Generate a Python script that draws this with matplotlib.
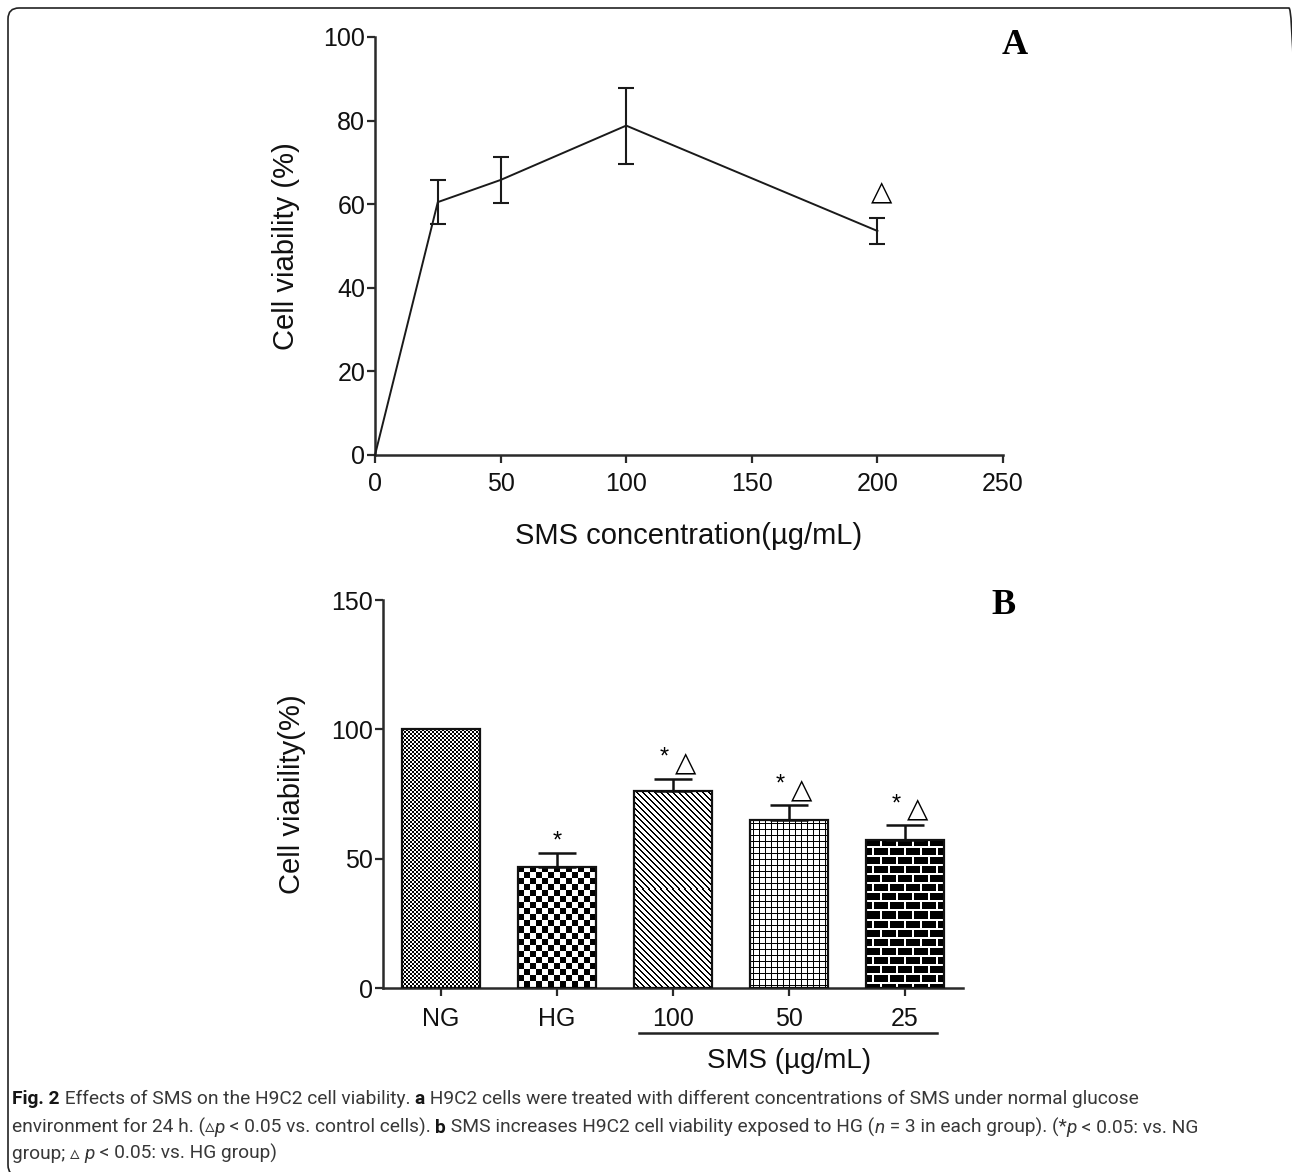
import numpy as np
import matplotlib
matplotlib.use("Agg")
import matplotlib.pyplot as plt
import matplotlib.transforms as mtransforms
from matplotlib.patches import FancyBboxPatch

plt.rcParams['font.family'] = ['Liberation Sans', 'DejaVu Sans']

# panel A: viability vs SMS concentration (normal glucose)
conc = [0, 25, 50, 100, 200]
viab_a = [0, 60.5, 65.8, 78.8, 53.6]
err_a = [0, 5.3, 5.6, 9.1, 3.2]

# panel B: viability under high glucose
groups = ["NG", "HG", "100", "50", "25"]
viab_b = [100, 46.8, 76.3, 64.9, 57.4]
err_b = [0, 5.2, 4.6, 5.7, 5.5]
stars_b = [False, True, True, True, True]
tris_b = [False, False, True, True, True]
fills_b = ["fine", "check", "diag", "grid", "brick"]

W, H = 1292, 1172
fig = plt.figure(figsize=(W / 100, H / 100), dpi=100)
INK = '#2a2a2a'


def px_axes(l, t, r, b):
    return fig.add_axes([l / W, 1 - b / H, (r - l) / W, (b - t) / H])


def style(ax):
    for s in ('top', 'right'):
        ax.spines[s].set_visible(False)
    for s in ('left', 'bottom'):
        ax.spines[s].set_linewidth(1.8)
        ax.spines[s].set_color(INK)
    ax.tick_params(direction='out', length=6, width=1.6, color=INK,
                   labelsize=18, labelcolor='#111')
    ax.tick_params(axis='y', pad=1)
    ax.tick_params(axis='x', pad=6)


# ---- panel A ----
ax_a = px_axes(375, 37, 1003, 455)
style(ax_a)
ax_a.plot(conc, viab_a, color='#1a1a1a', lw=1.4, clip_on=False, zorder=3)
ax_a.errorbar(conc[1:], viab_a[1:], yerr=err_a[1:], fmt='none', ecolor='#1a1a1a',
              elinewidth=1.5, capsize=6, capthick=1.5, clip_on=False, zorder=3)
ax_a.annotate("\u25B3", xy=(conc[4], viab_a[4] + err_a[4]), xytext=(3, 8),
              textcoords='offset points', ha='center', va='bottom',
              fontsize=20, family='DejaVu Sans')
ax_a.set_xlim(0, 250)
ax_a.set_ylim(0, 100)
ax_a.set_xticks(range(0, 251, 50))
ax_a.set_yticks(range(0, 101, 20))
ax_a.set_xlabel("SMS concentration(\u00b5g/mL)", fontsize=21, color='#111')
ax_a.xaxis.set_label_coords(0.5, -0.16)
ax_a.set_ylabel("Cell viability (%)", fontsize=21, color='#111')
ax_a.yaxis.set_label_coords(-0.119, 0.5)
fig.text(1015 / W, 1 - 46 / H, "A", fontsize=26, fontweight='bold',
         family='Liberation Serif', ha='center', va='center')

# ---- panel B ----
ax_b = px_axes(383, 600, 963, 988)
style(ax_b)
ax_b.tick_params(axis='x', pad=8)
x = np.arange(len(groups))
ax_b.set_xlim(-0.5, 4.5)
ax_b.set_ylim(0, 150)
bars = ax_b.bar(x, viab_b, width=0.68, facecolor='none', edgecolor='#111',
                linewidth=1.6, zorder=3)


def texture(kind, w, h):
    # 1 = white, 0 = black, one cell per output pixel
    yy, xx = np.mgrid[0:h, 0:w]
    if kind == 'fine':
        return ((xx // 2 + yy // 2) % 2).astype(float)
    if kind == 'check':
        return ((xx // 6 + yy // 6) % 2).astype(float)
    if kind == 'diag':
        return (((xx - yy) % 6) >= 2).astype(float)
    if kind == 'grid':
        return ~((xx % 6 == 3) | (yy % 6 == 3)) * 1.0
    row = yy // 9
    gap_row = (yy % 9) >= 7
    gap_col = ((xx + (row % 2) * 8) % 16) >= 14
    return (gap_row | gap_col).astype(float)


for bar, kind in zip(bars, fills_b):
    bb = bar.get_window_extent()
    tex = texture(kind, max(int(round(bb.width)), 1), max(int(round(bb.height)), 1))
    x0, y0 = bar.get_x(), bar.get_y()
    im = ax_b.imshow(tex, cmap='gray', vmin=0, vmax=1, interpolation='nearest',
                     extent=(x0, x0 + bar.get_width(), y0, y0 + bar.get_height()),
                     origin='upper', aspect='auto', zorder=2)
    im.set_clip_path(bar)

up = [i for i in range(len(groups)) if err_b[i] > 0]
ax_b.errorbar(x[up], np.array(viab_b)[up],
              yerr=[np.zeros(len(up)), np.array(err_b)[up]], fmt='none',
              ecolor='#111', elinewidth=1.8, capsize=14, capthick=1.8, zorder=3)
ax_b.set_xlim(-0.5, 4.5)
ax_b.set_ylim(0, 150)

for i in range(len(groups)):
    top = viab_b[i] + err_b[i]
    if stars_b[i] and not tris_b[i]:
        ax_b.annotate("*", xy=(i, top), xytext=(0, 1), textcoords='offset points',
                      ha='center', va='bottom', fontsize=17)
    elif stars_b[i]:
        ax_b.annotate("*", xy=(i, top), xytext=(-6, 7), textcoords='offset points',
                      ha='center', va='bottom', fontsize=17)
    if tris_b[i]:
        ax_b.annotate("\u25B3", xy=(i, top), xytext=(9, 1), textcoords='offset points',
                      ha='center', va='bottom', fontsize=20, family='DejaVu Sans')

ax_b.set_xticks(x)
ax_b.set_xticklabels(groups)
ax_b.set_yticks([0, 50, 100, 150])
ax_b.set_ylabel("Cell viability(%)", fontsize=21, color='#111')
ax_b.yaxis.set_label_coords(-0.133, 0.5)

# SMS bracket under the three SMS groups
tr = ax_b.get_xaxis_transform()
ax_b.plot([2 - 0.29, 4 + 0.28], [-0.115, -0.115], transform=tr, color='#222',
          lw=1.8, clip_on=False)
ax_b.text(3.0, -0.188, "SMS (\u00b5g/mL)", transform=tr, ha='center', va='center',
          fontsize=20, color='#111')
fig.text(1003 / W, 1 - 606 / H, "B", fontsize=26, fontweight='bold',
         family='Liberation Serif', ha='center', va='center')

# ---- caption ----
cap_family = ['Roboto', 'DejaVu Sans']
N, B, I = 'n', 'b', 'i'
TRI = "\u25B5"
caption = [
    [("Fig. 2", B), (" Effects of SMS on the H9C2 cell viability. ", N), ("a", B),
     (" H9C2 cells were treated with different concentrations of SMS under normal glucose", N)],
    [("environment for 24 h. (" + TRI, N), ("p", I), (" < 0.05 vs. control cells). ", N),
     ("b", B), (" SMS increases H9C2 cell viability exposed to HG (", N), ("n", I),
     (" = 3 in each group). (*", N), ("p", I), (" < 0.05: vs. NG", N)],
    [("group; " + TRI + " ", N), ("p", I), (" < 0.05: vs. HG group)", N)],
]
baselines = [1104, 1133, 1159]
renderer = fig.canvas.get_renderer()


def props(kind, size):
    d = dict(fontsize=size, family=cap_family, color='#383838')
    if kind == B:
        d.update(fontweight='bold', color='#151515')
    if kind == I:
        d.update(style='italic')
    return d


def run_width(txt, kind, size):
    a = fig.text(0, 0, "|" + txt + "|", **props(kind, size))
    b = fig.text(0, 0, "||", **props(kind, size))
    w = a.get_window_extent(renderer).width - b.get_window_extent(renderer).width
    a.remove()
    b.remove()
    return w


base = 12.0
w1 = sum(run_width(t, k, base) for t, k in caption[0])
w2 = sum(run_width(t, k, base) for t, k in caption[1])
size = base * min((1045 + 1264) / (w1 + w2), 1266 / w2)

for line, yb in zip(caption, baselines):
    xp = 12
    for txt, kind in line:
        fig.text(xp / W, 1 - yb / H, txt, ha='left', va='baseline', **props(kind, size))
        xp += run_width(txt, kind, size)

# rounded frame (right and bottom edges fall just outside the picture)
frame = FancyBboxPatch((8, -4), 1292, H - 8 + 4, boxstyle="round,pad=0,rounding_size=11",
                       transform=mtransforms.IdentityTransform(), fill=False,
                       edgecolor='#222', linewidth=1.2)
fig.add_artist(frame)

fig.savefig("out.png", dpi=100)
